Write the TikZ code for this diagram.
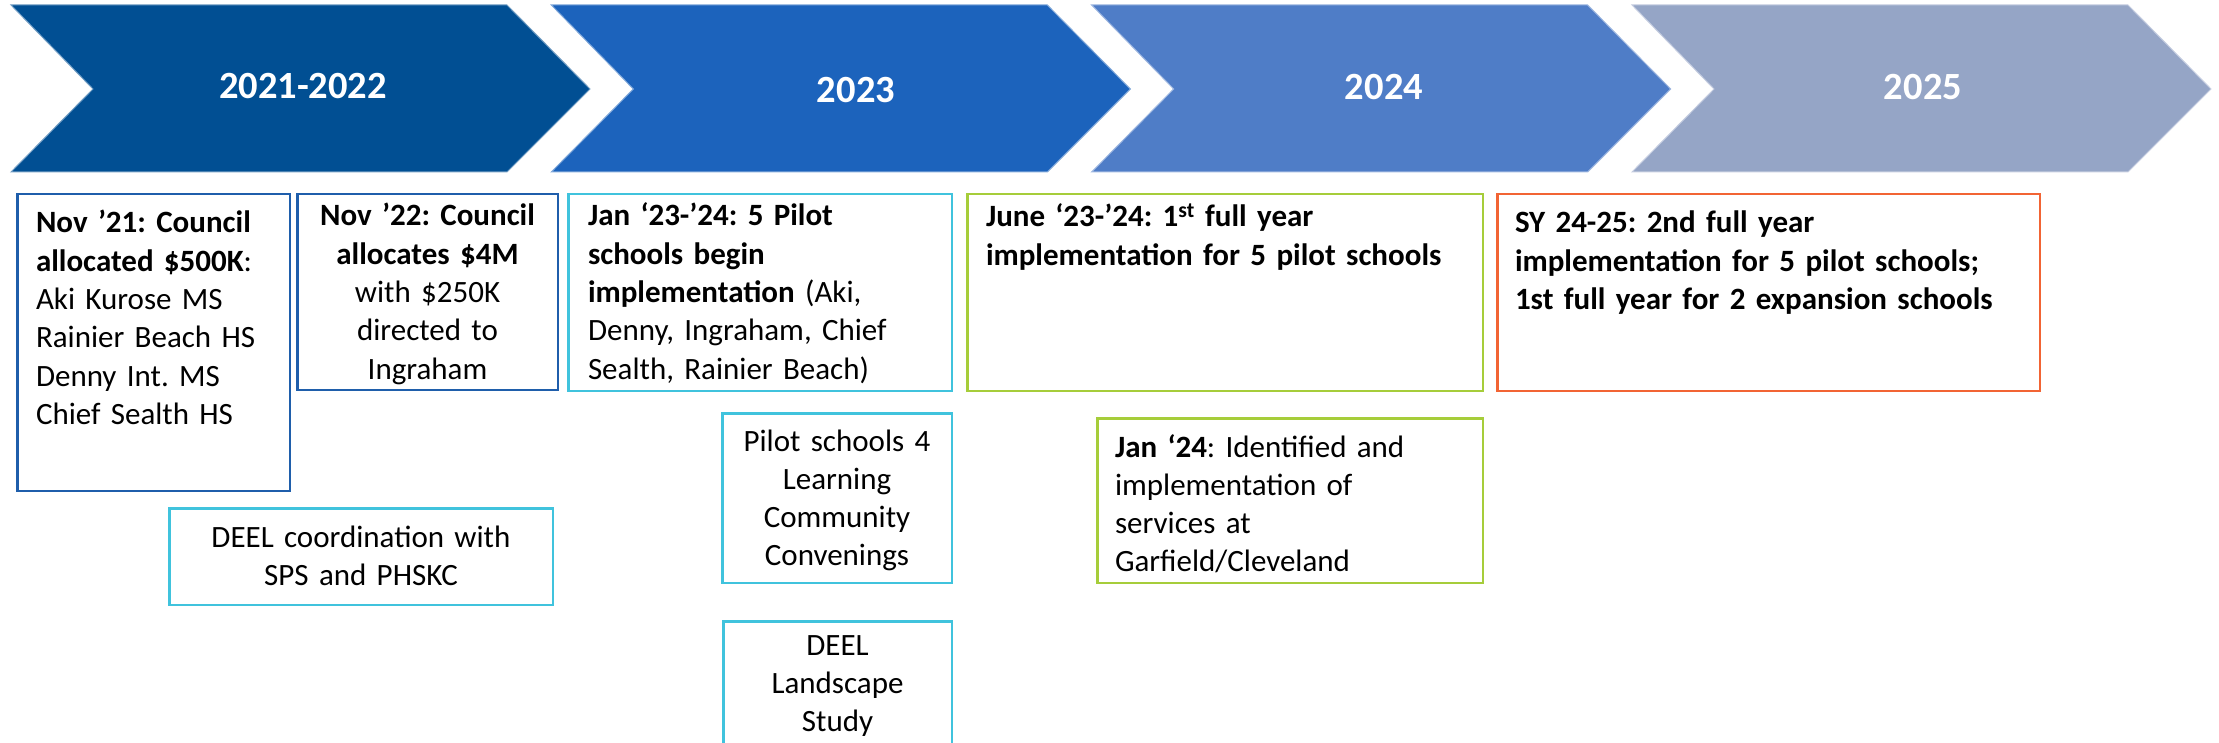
\documentclass[tikz,border=0pt]{standalone}
\usepackage{fontspec}
\setmainfont{Carlito}
\frenchspacing
\definecolor{ch1}{HTML}{014F93}
\definecolor{ch2}{HTML}{1C63BC}
\definecolor{ch3}{HTML}{4F7DC7}
\definecolor{ch4}{HTML}{95A5C6}
\definecolor{bdark}{HTML}{1F5EAB}
\definecolor{bcyan}{HTML}{40C3DD}
\definecolor{bgreen}{HTML}{A6CD3A}
\definecolor{borange}{HTML}{F26434}
\tikzset{
  chev/.style={draw=#1!55!white, line width=1pt, fill=#1},
  yearlbl/.style={text=white, inner sep=0, outer sep=0, anchor=base, font=\fontsize{38.5}{46}\selectfont\bfseries},
  tbox/.style={draw=#1, line width=2.5pt, inner sep=0, outer sep=0},
  ltxt/.style={inner sep=0, outer sep=0, anchor=base west, align=left, text width=#1, font=\fontsize{31}{38.3}\selectfont\frenchspacing},
  ctxt/.style={inner sep=0, outer sep=0, anchor=base, align=center, text width=#1, font=\fontsize{31}{38.3}\selectfont\frenchspacing}
}
\begin{document}
\begin{tikzpicture}[x=1pt,y=-1pt]
\useasboundingbox (0,0) rectangle (2219,743);
% chevrons
\foreach \i/\c in {0/ch1,1/ch2,2/ch3,3/ch4}{
  \pgfmathsetmacro{\xo}{11+540.33*\i}
  \fill[chev=\c] (\xo,5) -- ({\xo+496},5) -- ({\xo+579},89) -- ({\xo+496},172) -- (\xo,172) -- ({\xo+82},89) -- cycle;
}
\node[yearlbl] (y1) at (303,99) {2021-2022};
\node[yearlbl] (y2) at (856,103) {2023};
\node[yearlbl] (y3) at (1384,100) {2024};
\node[yearlbl] (y4) at (1923,100) {2025};
% boxes
\node[tbox=bdark, minimum width=272.5, minimum height=296.5] (A) at (153.5,342.5) {};
\node[tbox=bdark, minimum width=260.5, minimum height=195.5] (B) at (427.5,292) {};
\node[tbox=bcyan, minimum width=383.5, minimum height=96.5] (C) at (361,556.5) {};
\node[tbox=bcyan, minimum width=383.5, minimum height=196.5] (D) at (760,292.5) {};
\node[tbox=bcyan, minimum width=229.5, minimum height=169.5] (E) at (837,498) {};
\node[tbox=bcyan, minimum width=228.5, minimum height=145.5] (F) at (837.5,694) {};
\node[tbox=bgreen, minimum width=515.5, minimum height=196.5] (G) at (1225,292.5) {};
\node[tbox=bgreen, minimum width=385.5, minimum height=164.5] (H) at (1290,500.5) {};
\node[tbox=borange, minimum width=542.5, minimum height=196.5] (I) at (1768.5,292.5) {};
% texts
\node[ltxt=250] (tA) at (36,233) {\textbf{Nov ’21: Council}\\\textbf{allocated \$500K}:\\Aki Kurose MS\\Rainier Beach HS\\Denny Int. MS\\Chief Sealth HS};
\node[ctxt=255] (tB) at (427.5,226) {\textbf{Nov ’22: Council}\\\textbf{allocates \$4M}\\with \$250K\\directed to\\Ingraham};
\node[ctxt=380] (tC) at (361,547) {DEEL coordination with\\SPS and PHSKC};
\node[ltxt=360] (tD) at (588,226) {\textbf{Jan ‘23-’24: 5 Pilot}\\\textbf{schools begin}\\\textbf{implementation} (Aki,\\Denny, Ingraham, Chief\\Sealth, Rainier Beach)};
\node[ctxt=225] (tE) at (837,451) {Pilot schools 4\\Learning\\Community\\Convenings};
\node[ctxt=225] (tF) at (837.5,655) {DEEL\\Landscape\\Study};
\node[ltxt=490] (tG) at (986,227) {\textbf{June ‘23-’24: 1\textsuperscript{st} full year}\\\textbf{implementation for 5 pilot schools}};
\node[ltxt=360] (tH) at (1115,457) {\textbf{Jan ‘24}: Identified and\\implementation of\\services at\\Garfield/Cleveland};
\node[ltxt=520] (tI) at (1515,233) {\textbf{SY 24-25: 2nd full year}\\\textbf{implementation for 5 pilot schools;}\\\textbf{1st full year for 2 expansion schools}};
\end{tikzpicture}
\end{document}
